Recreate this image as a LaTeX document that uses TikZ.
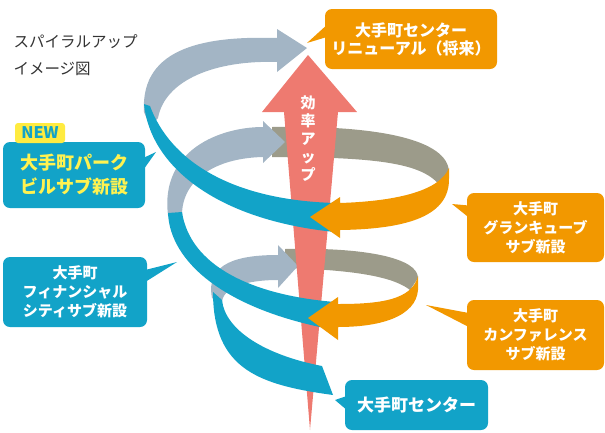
\documentclass[tikz,border=0pt]{standalone}
\usepackage{fontspec}
\setmainfont{Noto Sans CJK JP}
\definecolor{spiralblue}{HTML}{12A3C8}
\definecolor{spiralorange}{HTML}{F29800}
\definecolor{steel}{HTML}{A3B5C5}
\definecolor{olive}{HTML}{9C9B8A}
\definecolor{salmon}{HTML}{EE7A70}
\definecolor{spiralyellow}{HTML}{FFF250}
\definecolor{tagyellow}{HTML}{FFEB40}
\definecolor{titlegray}{HTML}{333333}

\tikzset{%
  bubble/.style={rounded corners=7pt, inner sep=0pt, align=center, text=white, font=\bfseries\fontsize{15}{19}\selectfont},
  bluebox/.style={bubble, fill=spiralblue},
  orangebox/.style={bubble, fill=spiralorange},
  tag/.style={fill=tagyellow, text=spiralblue, rounded corners=3pt, inner sep=0pt, font=\bfseries\fontsize{16}{16}\selectfont},
}

\begin{document}
\begin{tikzpicture}[x=1pt, y=-1pt]
\useasboundingbox (0,0) rectangle (605,432);
% back side of the spiral
\fill[olive] (272,127) .. controls (380,125) and (448,140) .. (449,172) -- (444,192) .. controls (430,165) and (390,157) .. (272,157) -- cycle;
\fill[olive] (285,249) .. controls (365,247) and (418,258) .. (418,278) -- (410,290) .. controls (395,278) and (360,270) .. (285,268) -- cycle;
\fill[steel] (144,112) .. controls (140,45) and (210,36) .. (277,38) -- (277,29) -- (307,48) -- (277,72) -- (277,62) .. controls (215,60) and (165,80) .. (158,118) -- (150,126) -- cycle;
\fill[steel] (168,215) .. controls (160,150) and (220,127) .. (263,127) -- (263,121) -- (285,142) -- (263,163) -- (263,157) .. controls (215,158) and (182,180) .. (182,215) -- cycle;
\fill[steel] (212,298) .. controls (205,262) and (240,255) .. (278,255) -- (278,245) -- (298,266) -- (278,288) -- (278,280) .. controls (245,280) and (222,288) .. (222,303) -- cycle;
% efficiency arrow
\fill[salmon] (308,55) -- (357,112) -- (338,112) -- (310,430) -- (284,112) -- (262,112) -- cycle;
\node[text=white, align=center, font=\bfseries\fontsize{15}{18}\selectfont] (kouritsu) at (308,139) {効\\率\\ア\\ッ\\プ};
% front side of the spiral
\fill[spiralblue] (144,104) .. controls (150,165) and (215,220) .. (335,232) -- (335,203) .. controls (230,200) and (170,160) .. (150,106) -- cycle;
\fill[spiralblue] (168,213) .. controls (170,262) and (225,310) .. (335,330) -- (335,302) .. controls (250,295) and (190,265) .. (182,212) -- cycle;
\fill[spiralblue] (213,292) .. controls (213,370) and (260,385) .. (333,395) -- (322,366) .. controls (265,355) and (225,330) .. (222,300) -- cycle;
\fill[spiralorange] (449,168) .. controls (440,190) and (400,201) .. (340,203) -- (340,197) -- (310,217) -- (340,238) -- (340,230) .. controls (410,229) and (450,215) .. (449,178) -- cycle;
\fill[spiralorange] (418,276) .. controls (412,300) and (380,304) .. (338,304) -- (338,297) -- (308,318) -- (338,340) -- (338,327) .. controls (390,327) and (420,312) .. (418,285) -- cycle;

\node[anchor=west, align=left, text=titlegray, font=\fontsize{15.5}{27}\selectfont] (title) at (10,55.5) {スパイラルアップ\\イメージ図};

\node[orangebox, font=\bfseries\fontsize{16}{18}\selectfont, minimum width=172pt, minimum height=60pt] (renewal) at (411,39) {大手町センター\\リニューアル（将来）};
\node[bluebox, text=spiralyellow, font=\bfseries\fontsize{18}{24}\selectfont, minimum width=142pt, minimum height=66pt] (parkbldg) at (74,175) {大手町パーク\\ビルサブ新設};
\node[tag, minimum width=50pt, minimum height=20pt] (newtag) at (40,133) {NEW};
\node[bluebox, minimum width=144pt, minimum height=70pt] (finance) at (75,292) {大手町\\フィナンシャル\\シティサブ新設};
\node[orangebox, minimum width=137pt, minimum height=69pt] (grancube) at (535.5,227.5) {大手町\\グランキューブ\\サブ新設};
\node[orangebox, minimum width=137pt, minimum height=70pt] (conference) at (535.5,335) {大手町\\カンファレンス\\サブ新設};
\node[bluebox, font=\bfseries\fontsize{17}{19}\selectfont, minimum width=143pt, minimum height=50pt] (otemachi) at (416.5,405) {大手町センター};

\coordinate (renewaltip) at (307,43);
\coordinate (parktip) at (156,152);
\coordinate (financetip) at (177,262);
\coordinate (grantip) at (452,204);
\coordinate (conftip) at (426,305);
\coordinate (otemachitip) at (335,400);
\fill[spiralorange] ([shift={(2pt,14pt)}]renewal.west) -- (renewaltip) -- ([shift={(2pt,2pt)}]renewal.west) -- cycle;
\fill[spiralblue] ([shift={(-2pt,17pt)}]parkbldg.east) -- (parktip) -- ([shift={(-2pt,5pt)}]parkbldg.east) -- cycle;
\fill[spiralblue] ([shift={(-2pt,22pt)}]finance.east) -- (financetip) -- ([shift={(-2pt,10pt)}]finance.east) -- cycle;
\fill[spiralorange] ([shift={(2pt,22pt)}]grancube.west) -- (grantip) -- ([shift={(2pt,10pt)}]grancube.west) -- cycle;
\fill[spiralorange] ([shift={(2pt,22pt)}]conference.west) -- (conftip) -- ([shift={(2pt,8pt)}]conference.west) -- cycle;
\fill[spiralblue] ([shift={(2pt,9pt)}]otemachi.west) -- (otemachitip) -- ([shift={(2pt,-5pt)}]otemachi.west) -- cycle;
\end{tikzpicture}
\end{document}
